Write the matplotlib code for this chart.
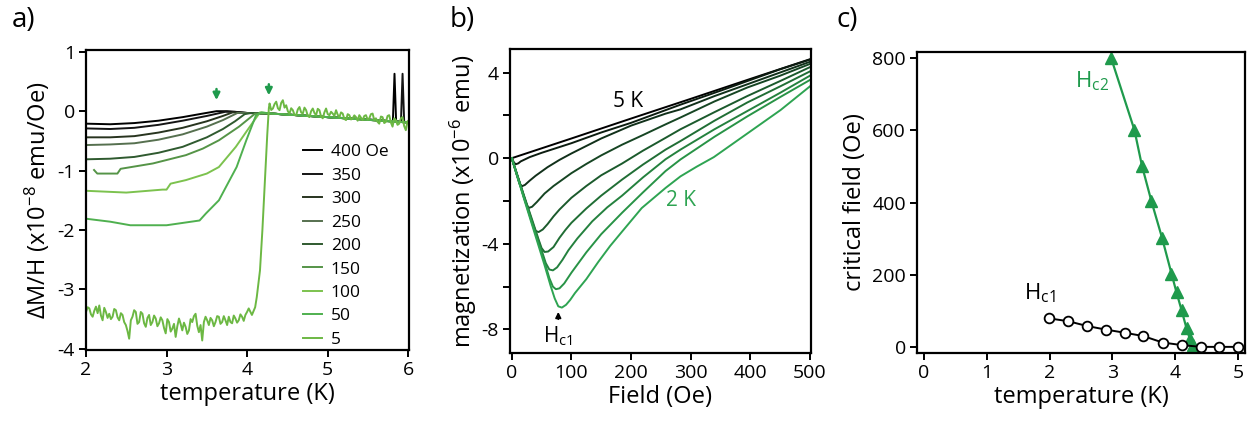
import numpy as np
import matplotlib
matplotlib.use('Agg')
import matplotlib.pyplot as plt

plt.rcParams['font.family'] = ['Open Sans', 'DejaVu Sans']
plt.rcParams['mathtext.fontset'] = 'custom'
plt.rcParams['mathtext.rm'] = 'Open Sans'
plt.rcParams['mathtext.it'] = 'Open Sans:italic'
plt.rcParams['axes.unicode_minus'] = False

# ---------------- panel a data: dM/H vs temperature ----------------
fields_a = ['400 Oe', '350', '300', '250', '200', '150', '100', '50', '5']
colors_a = ['#000000', '#141414', '#28341f', '#56704f', '#2f5a2f',
            '#559447', '#7cc24e', '#4fb04f', '#6cb843']

T400 = [2.0, 2.3, 2.6, 2.9, 3.2, 3.45, 3.62, 3.75, 4.0, 4.3, 5.0, 5.5, 5.81, 5.83, 5.85, 6.0]
M400 = [-0.21, -0.22, -0.2, -0.16, -0.1, -0.04, 0.0, 0.0, -0.03, -0.04, -0.1, -0.14, -0.17, 0.63, -0.17, -0.19]
T350 = [2.0, 2.3, 2.6, 2.9, 3.2, 3.5, 3.73, 3.85, 4.0, 4.3, 5.0, 5.5, 5.91, 5.93, 5.95, 6.0]
M350 = [-0.29, -0.3, -0.28, -0.23, -0.16, -0.08, -0.01, -0.01, -0.03, -0.04, -0.1, -0.14, -0.18, 0.63, -0.18, -0.19]
T300 = [2.0, 2.3, 2.6, 2.9, 3.2, 3.5, 3.7, 3.82, 4.0, 4.3, 5.0, 6.0]
M300 = [-0.44, -0.44, -0.42, -0.36, -0.28, -0.17, -0.08, -0.02, -0.03, -0.04, -0.1, -0.19]
T250 = [2.0, 2.3, 2.6, 2.9, 3.2, 3.5, 3.7, 3.88, 4.0, 4.3, 5.0, 6.0]
M250 = [-0.57, -0.56, -0.54, -0.48, -0.39, -0.26, -0.15, -0.03, -0.03, -0.04, -0.1, -0.19]
T200 = [2.0, 2.3, 2.6, 2.9, 3.2, 3.5, 3.7, 3.85, 3.97, 4.05, 4.3, 5.0, 6.0]
M200 = [-0.81, -0.8, -0.77, -0.7, -0.6, -0.44, -0.3, -0.17, -0.05, -0.03, -0.04, -0.1, -0.19]
T150 = [2.1, 2.14, 2.39, 2.43, 2.83, 3.24, 3.45, 3.65, 3.9, 4.1, 4.3, 5.0, 6.0]
M150 = [-0.99, -1.05, -1.05, -0.97, -0.88, -0.74, -0.63, -0.49, -0.26, -0.04, -0.04, -0.1, -0.19]
T100 = [2.0, 2.5, 2.95, 3.0, 3.05, 3.24, 3.5, 3.65, 3.86, 4.06, 4.16, 4.3, 5.0, 6.0]
M100 = [-1.34, -1.37, -1.32, -1.32, -1.22, -1.16, -1.05, -0.94, -0.6, -0.21, -0.02, -0.04, -0.1, -0.19]
T50 = [2.0, 2.3, 2.55, 3.0, 3.41, 3.49, 3.65, 3.74, 3.87, 3.99, 4.11, 4.18, 4.3, 5.0, 6.0]
M50 = [-1.81, -1.86, -1.92, -1.92, -1.84, -1.72, -1.5, -1.27, -0.94, -0.49, -0.07, -0.02, -0.04, -0.1, -0.19]

# 5 Oe: noisy measured trace (low-T part, transition, normal state part)
M5_low = [-3.38, -3.30, -3.32, -3.42, -3.46, -3.36, -3.29, -3.40, -3.27, -3.44,
          -3.52, -3.31, -3.38, -3.48, -3.41, -3.50, -3.46, -3.33, -3.35, -3.47,
          -3.52, -3.40, -3.43, -3.55, -3.60, -3.70, -3.83, -3.52, -3.46, -3.35,
          -3.38, -3.58, -3.55, -3.38, -3.41, -3.57, -3.63, -3.48, -3.43, -3.60,
          -3.55, -3.44, -3.49, -3.62, -3.57, -3.47, -3.52, -3.65, -3.74, -3.50,
          -3.55, -3.71, -3.66, -3.58, -3.80, -3.62, -3.49, -3.58, -3.69, -3.56,
          -3.63, -3.75, -3.69, -3.50, -3.55, -3.45, -3.41, -3.61, -3.72, -3.60,
          -3.86, -3.55, -3.46, -3.52, -3.60, -3.48, -3.52, -3.62, -3.55, -3.45,
          -3.46, -3.58, -3.55, -3.45, -3.52, -3.60, -3.46, -3.55, -3.57, -3.44,
          -3.49, -3.56, -3.52, -3.42, -3.46, -3.53, -3.43, -3.38, -3.32]
T5_rise = [4.06, 4.1, 4.12, 4.14, 4.16, 4.19, 4.22, 4.25, 4.27]
M5_rise = [-3.43, -3.3, -3.13, -2.9, -2.68, -2.0, -1.2, -0.4, 0.05]
M5_high = [0.13, 0.02, 0.045, 0.12, 0.16, 0.05, 0.017, 0.14, 0.185, 0.06,
           0.10, 0.0, -0.04, 0.05, 0.017, -0.06, -0.067, 0.03, 0.07, -0.02,
           -0.04, 0.06, 0.017, -0.08, -0.10, 0.0, 0.045, -0.03, -0.067, 0.04,
           0.017, -0.09, -0.12, -0.02, 0.045, -0.05, -0.067, -0.01, -0.04, -0.08,
           0.017, -0.06, -0.10, -0.02, -0.04, -0.13, -0.15, -0.05, -0.067, -0.14,
           -0.12, -0.07, -0.10, -0.16, -0.067, -0.11, -0.15, -0.08, -0.067, -0.14,
           -0.12, -0.05, -0.04, -0.15, -0.12, -0.18, -0.21, -0.09, -0.10, -0.20,
           -0.18, -0.08, -0.067, -0.19, -0.26, -0.12, -0.15, -0.23, -0.21, -0.12,
           -0.10, -0.25, -0.32, -0.17, -0.15]
T5 = list(np.linspace(2.0, 4.02, len(M5_low))) + T5_rise + list(np.linspace(4.279, 6.012, len(M5_high)))
M5 = M5_low + M5_rise + M5_high

curves_a = [(T400, M400), (T350, M350), (T300, M300), (T250, M250), (T200, M200),
            (T150, M150), (T100, M100), (T50, M50), (T5, M5)]

# ---------------- panel b data: M vs H ----------------
colors_b = ['#000000', '#0c1c10', '#11301a', '#164523', '#1b5a2c',
            '#206e35', '#24813e', '#289346', '#2ea452']
F5K = [0, 100, 200, 300, 400, 500]
M5K = [0, 0.92, 1.85, 2.77, 3.7, 4.62]
Fc2 = [0, 4, 7, 11, 15, 30, 50, 100, 150, 200, 283, 350, 400, 450, 500]
Mc2 = [0, -0.22, -0.28, -0.24, -0.15, 0.05, 0.25, 0.7, 1.2, 1.65, 2.5, 3.15, 3.65, 4.15, 4.6]
Fc3 = [0, 8, 13, 17, 22, 30, 40, 60, 80, 100, 150, 200, 258, 283, 340, 395, 450, 500]
Mc3 = [0, -0.75, -1.2, -1.31, -1.25, -1.05, -0.82, -0.42, -0.08, 0.22, 0.92, 1.52, 2.08, 2.28, 2.9, 3.45, 4.0, 4.5]
Fc4 = [0, 12, 20, 25, 29, 34, 42, 55, 70, 100, 125, 150, 185, 220, 258, 283, 340, 395, 450, 500]
Mc4 = [0, -1.05, -1.8, -2.2, -2.32, -2.27, -2.05, -1.65, -1.3, -0.7, -0.27, 0.13, 0.63, 1.08, 1.58, 1.9, 2.65, 3.3, 3.85, 4.4]
Fc5 = [0, 15, 28, 35, 40, 45, 52, 60, 70, 80, 100, 125, 150, 185, 220, 258, 283, 340, 395, 450, 500]
Mc5 = [0, -1.3, -2.45, -3.1, -3.4, -3.45, -3.33, -3.08, -2.72, -2.4, -1.85, -1.3, -0.8, -0.25, 0.35, 0.95, 1.35, 2.15, 2.9, 3.6, 4.25]
Fc6 = [0, 20, 35, 45, 50, 55, 61, 70, 80, 90, 100, 125, 150, 185, 220, 258, 283, 340, 395, 450, 500]
Mc6 = [0, -1.7, -2.95, -3.8, -4.2, -4.38, -4.36, -4.15, -3.72, -3.35, -3.02, -2.35, -1.75, -1.0, -0.3, 0.4, 0.8, 1.75, 2.6, 3.35, 4.05]
Fc7 = [0, 20, 40, 50, 57, 63, 69, 76, 85, 95, 110, 135, 160, 185, 220, 258, 283, 340, 395, 450, 500]
Mc7 = [0, -1.75, -3.45, -4.3, -4.9, -5.2, -5.24, -5.1, -4.75, -4.3, -3.75, -2.95, -2.3, -1.75, -0.9, -0.05, 0.4, 1.35, 2.2, 3.05, 3.85]
Fc8 = [0, 20, 40, 55, 63, 69, 74, 80, 88, 100, 125, 150, 185, 220, 258, 283, 340, 395, 450, 500]
Mc8 = [0, -1.8, -3.55, -4.85, -5.6, -6.0, -6.12, -6.08, -5.85, -5.35, -4.4, -3.55, -2.55, -1.6, -0.6, -0.06, 1.0, 1.95, 2.85, 3.65]
F2K = [0, 20, 40, 55, 65, 72, 78, 84, 91, 98, 106, 125, 145, 165, 185, 218, 258, 283, 310, 339, 395, 451, 500]
M2K = [0, -1.85, -3.65, -5.0, -5.95, -6.55, -6.92, -6.98, -6.85, -6.62, -6.3, -5.65, -4.85, -4.1, -3.43, -2.33, -1.39, -0.85, -0.4, 0.05, 1.15, 2.25, 3.35]
curves_b = [(F5K, M5K), (Fc2, Mc2), (Fc3, Mc3), (Fc4, Mc4), (Fc5, Mc5),
            (Fc6, Mc6), (Fc7, Mc7), (Fc8, Mc8), (F2K, M2K)]

# ---------------- panel c data: critical fields ----------------
T_hc2 = [2.98, 3.35, 3.47, 3.62, 3.79, 3.94, 4.02, 4.10, 4.18, 4.23, 4.28]
Hc2 = [800, 601, 502, 404, 302, 203, 151, 102, 51, 23, 5]
T_hc1 = [1.99, 2.30, 2.59, 2.89, 3.20, 3.49, 3.80, 4.10, 4.41, 4.70, 5.0]
Hc1 = [79, 71, 58, 48, 39, 30, 12, 5, 0, 0, 0]

green = '#1f9a4c'
tick_fs = 14
label_fs = 17

fig = plt.figure(figsize=(12.47, 4.33), dpi=100)
ax_a = fig.add_axes([86/1247, 1-350/433, 323/1247, 300/433])
ax_b = fig.add_axes([510/1247, 1-353/433, 301/1247, 304/433])
ax_c = fig.add_axes([917/1247, 1-353/433, 328/1247, 301/433])

for ax in (ax_a, ax_b, ax_c):
    for s in ax.spines.values():
        s.set_linewidth(1.6)
    ax.tick_params(direction='out', length=5, width=1.4, labelsize=tick_fs, pad=3)

# panel a
for (t, m), c, lab in zip(curves_a, colors_a, fields_a):
    ax_a.plot(t, m, color=c, lw=1.4, label=lab)
ax_a.set_xlim(2, 6.01)
ax_a.set_ylim(-4.02, 1.03)
ax_a.set_xticks([2, 3, 4, 5, 6])
ax_a.set_yticks([-4, -3, -2, -1, 0, 1])
ax_a.set_xlabel('temperature (K)', fontsize=label_fs, labelpad=2)
ax_a.set_ylabel(r'ΔM/H (x10$^{-8}$ emu/Oe)', fontsize=label_fs, labelpad=4)
ax_a.annotate('', xy=(3.62, 0.14), xytext=(3.62, 0.42),
              arrowprops=dict(arrowstyle='-|>', color=green, lw=1.8, mutation_scale=10))
ax_a.annotate('', xy=(4.27, 0.22), xytext=(4.27, 0.5),
              arrowprops=dict(arrowstyle='-|>', color=green, lw=1.8, mutation_scale=10))
ax_a.legend(loc='upper left', bbox_to_anchor=(0.645, 0.715), frameon=False,
            fontsize=12.5, handlelength=1.1, handletextpad=0.5,
            labelspacing=0.42, borderpad=0)

# panel b
for (f, m), c in zip(curves_b, colors_b):
    ax_b.plot(f, m, color=c, lw=1.4)
ax_b.set_xlim(-3, 502)
ax_b.set_ylim(-9.1, 5.1)
ax_b.set_xticks([0, 100, 200, 300, 400, 500])
ax_b.set_yticks([-8, -6, -4, -2, 0, 2, 4])
ax_b.set_yticklabels(['-8', '', '-4', '', '0', '', '4'])
ax_b.set_xlabel('Field (Oe)', fontsize=label_fs, labelpad=2)
ax_b.set_ylabel(r'magnetization (x10$^{-6}$ emu)', fontsize=label_fs, labelpad=2)
ax_b.text(170, 2.65, '5 K', fontsize=15, color='black', va='center')
ax_b.text(258, -2.0, '2 K', fontsize=15, color='#2ea452', va='center')
ax_b.annotate('', xy=(78, -7.05), xytext=(78, -7.65),
              arrowprops=dict(arrowstyle='-|>', color='black', lw=1.3, mutation_scale=8))
ax_b.text(78, -8.3, r'H$_{\mathrm{c1}}$', fontsize=15, ha='center', va='center')

# panel c
ax_c.plot(T_hc2, Hc2, color=green, lw=1.6, marker='^', ms=9, mec=green, mfc=green)
ax_c.plot(T_hc1, Hc1, color='black', lw=1.4, marker='o', ms=7, mfc='white', mec='black', mew=1.3)
ax_c.set_xlim(-0.11, 5.11)
ax_c.set_ylim(-17, 817)
ax_c.set_xticks([0, 1, 2, 3, 4, 5])
ax_c.set_yticks([0, 200, 400, 600, 800])
ax_c.set_xlabel('temperature (K)', fontsize=label_fs, labelpad=2)
ax_c.set_ylabel('critical field (Oe)', fontsize=label_fs, labelpad=4)
ax_c.text(2.4, 735, r'H$_{\mathrm{c2}}$', fontsize=16, color=green, va='center')
ax_c.text(1.6, 150, r'H$_{\mathrm{c1}}$', fontsize=16, color='black', va='center')

fig.text(12/1247, 1-6/433, 'a)', fontsize=20, va='top')
fig.text(450/1247, 1-6/433, 'b)', fontsize=20, va='top')
fig.text(837/1247, 1-6/433, 'c)', fontsize=20, va='top')

fig.savefig('out.png', dpi=100)
